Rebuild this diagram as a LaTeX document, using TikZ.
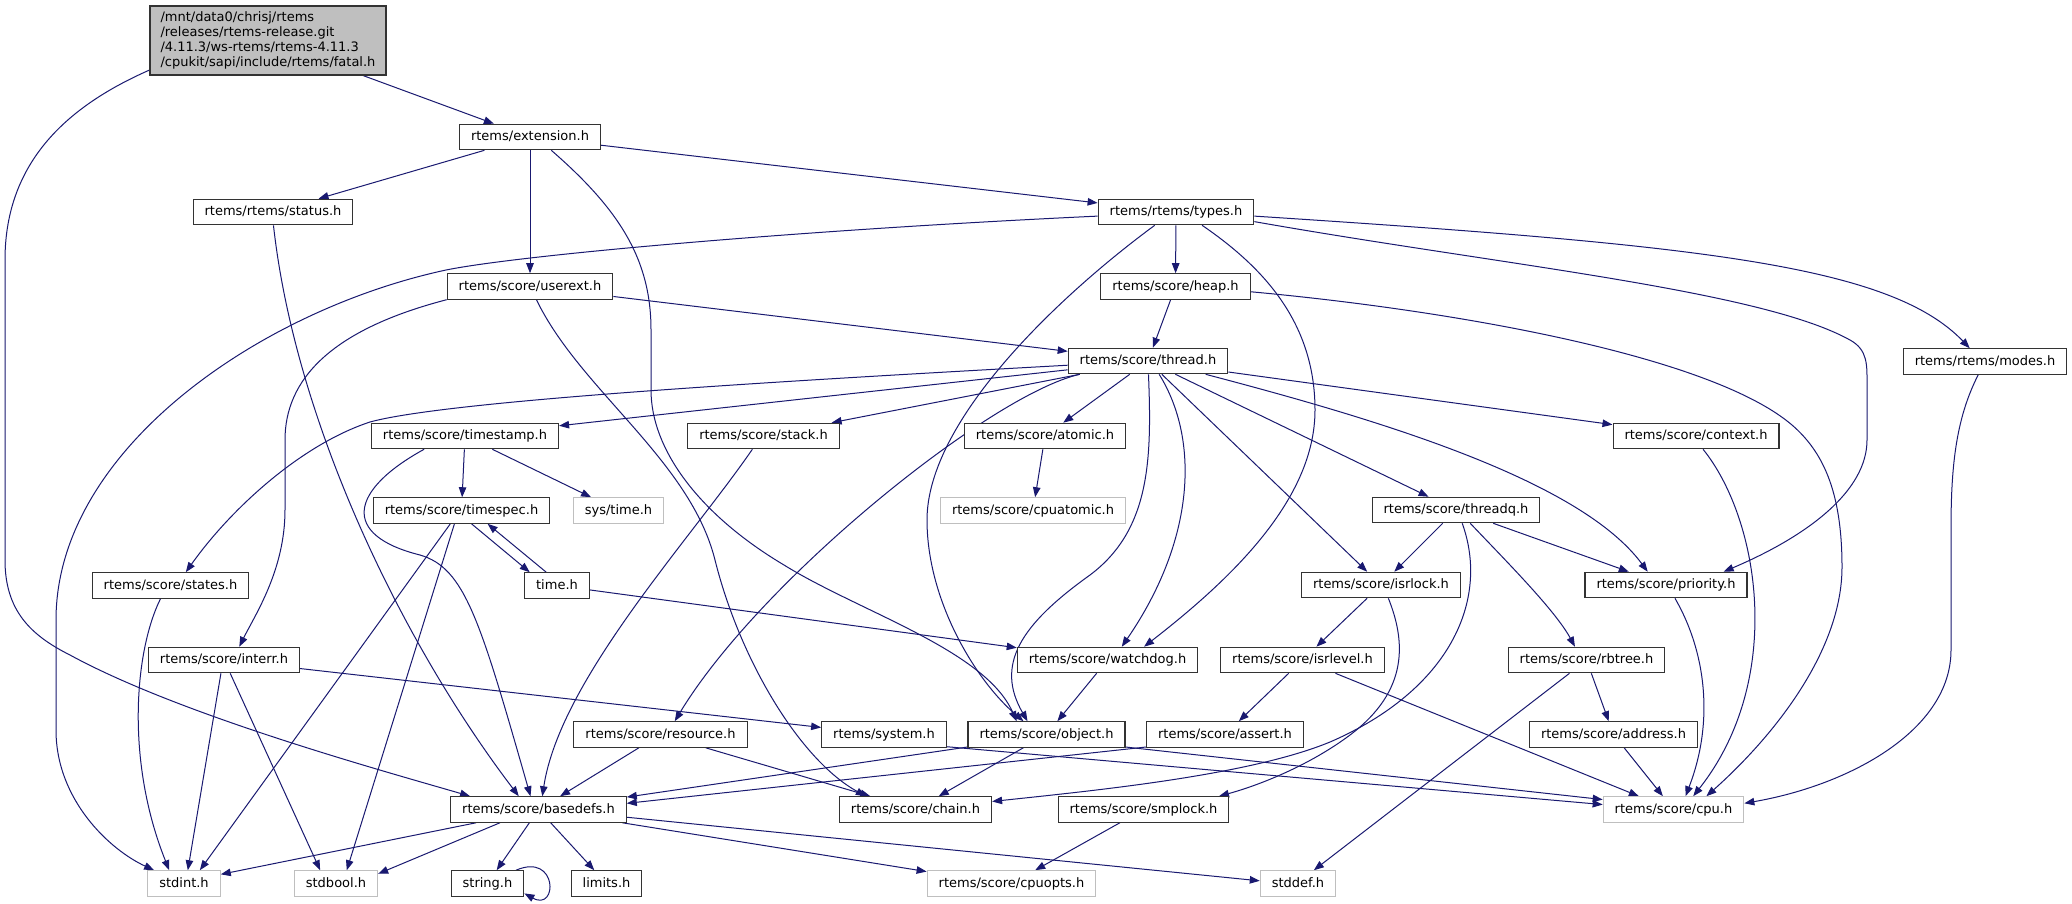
\documentclass[tikz,border=0pt]{standalone}
\usepackage{fontspec}
\setmainfont{DejaVu Sans}
\usetikzlibrary{arrows.meta}
\definecolor{edgeblue}{HTML}{191970}
\definecolor{nodegray}{HTML}{BFBFBF}
\definecolor{frame}{HTML}{333333}
\pgfdeclarelayer{bg}
\pgfdeclarelayer{edges}
\pgfsetlayers{bg,edges,main}
\begin{document}
\begin{tikzpicture}[x=1pt,y=-1pt,
  every node/.style={font=\fontsize{13}{15}\selectfont},
  box/.style={draw=frame, line width=1.1pt, rectangle, fill=white, inner xsep=11.5pt, inner ysep=0pt,
              minimum height=25.5pt, text height=10pt, text depth=3pt},
  ext/.style={box, draw=nodegray},
  e/.style={draw=edgeblue, line width=1pt, -{Triangle[length=10pt,width=7.5pt]}}]
\useasboundingbox (0,0) rectangle (2072,903);
\begin{pgfonlayer}{bg}
\fill[white] (0,0) rectangle (2072,903);
\end{pgfonlayer}

% ---------------- nodes ----------------
\node[box, fill=nodegray, text width=215pt, align=left, inner xsep=10.5pt, minimum height=69pt,
      text height=, text depth=] (fatal) at (268,40.5)
  {/mnt/data0/chrisj/rtems\\/releases/rtems-release.git\\/4.11.3/ws-rtems/rtems-4.11.3\\/cpukit/sapi/include/rtems/fatal.h};
\node[box] (extension) at (530,137) {rtems/extension.h};
\node[box] (status) at (273,212) {rtems/rtems/status.h};
\node[box] (userext) at (530,286.5) {rtems/score/userext.h};
\node[box] (types) at (1176,212) {rtems/rtems/types.h};
\node[box] (heap) at (1175.5,286.5) {rtems/score/heap.h};
\node[box] (thread) at (1148,361) {rtems/score/thread.h};
\node[box] (modes) at (1985,361.5) {rtems/rtems/modes.h};
\node[box] (context) at (1696,436) {rtems/score/context.h};
\node[box] (threadq) at (1456,510) {rtems/score/threadq.h};
\node[box] (timestamp) at (465,436) {rtems/score/timestamp.h};
\node[box] (timespec) at (461.5,510.5) {rtems/score/timespec.h};
\node[ext] (systime) at (618.5,510.5) {sys/time.h};
\node[box] (states) at (170.5,585.5) {rtems/score/states.h};
\node[box] (timeh) at (557,585.5) {time.h};
\node[box] (interr) at (224,660) {rtems/score/interr.h};
\node[box] (basedefs) at (538.5,809.5) {rtems/score/basedefs.h};
\node[ext] (stdint) at (184,883.5) {stdint.h};
\node[ext] (stdbool) at (336,883.5) {stdbool.h};
\node[box] (stringh) at (487.5,883.5) {string.h};
\node[box] (limits) at (606.5,883.5) {limits.h};
\node[box] (stack) at (763.5,436) {rtems/score/stack.h};
\node[box] (atomic) at (1045,436) {rtems/score/atomic.h};
\node[ext] (cpuatomic) at (1033,510.5) {rtems/score/cpuatomic.h};
\node[box] (watchdog) at (1107.5,660) {rtems/score/watchdog.h};
\node[box] (resource) at (660.5,734.5) {rtems/score/resource.h};
\node[box] (systemh) at (884,734.5) {rtems/system.h};
\node[box] (object) at (1046.5,734.5) {rtems/score/object.h};
\node[box] (assert) at (1225,734.5) {rtems/score/assert.h};
\node[box] (chain) at (915.5,809.5) {rtems/score/chain.h};
\node[box] (smplock) at (1143.5,809.5) {rtems/score/smplock.h};
\node[ext] (cpuopts) at (1011.5,883.5) {rtems/score/cpuopts.h};
\node[box] (isrlock) at (1381,585) {rtems/score/isrlock.h};
\node[box] (priority) at (1666,585) {rtems/score/priority.h};
\node[box] (isrlevel) at (1302.5,660) {rtems/score/isrlevel.h};
\node[box] (rbtree) at (1586.5,660) {rtems/score/rbtree.h};
\node[box] (address) at (1613.5,734.5) {rtems/score/address.h};
\node[ext] (cpu) at (1673.5,809.5) {rtems/score/cpu.h};
\node[ext] (stddef) at (1298,883.5) {stddef.h};

% ---------------- edges ----------------
\begin{pgfonlayer}{edges}
% fatal.h
\draw[e] (fatal) -- (extension);
\draw[e] (fatal.194) .. controls (70,105) and (5,160) .. (5,260) -- (5,560)
   .. controls (5,610) and (30,635) .. (70,655) .. controls (180,715) and (380,770) .. (basedefs.169);
% extension.h
\draw[e] (extension) -- (status);
\draw[e] (extension) -- (userext);
\draw[e] (extension) -- (types);
\draw[e] (extension.328) .. controls (620,210) and (651,260) .. (651,330) -- (651,390)
   .. controls (651,450) and (700,515) .. (784,565) .. controls (860,612) and (985,650) .. (object.156);
% status.h
\draw[e] (status.272) .. controls (295,420) and (400,640) .. (basedefs.146);
% types.h
\draw[e] (types.183) .. controls (800,230) and (520,255) .. (446,270)
   .. controls (260,310) and (56,450) .. (56,620) -- (56,730)
   .. controls (56,800) and (110,850) .. (stdint.156);
\draw[e] (types) -- (heap);
\draw[e] (types.212) .. controls (1060,295) and (927,420) .. (927,520)
   .. controls (927,600) and (975,680) .. (object.150);
\draw[e] (types.333) .. controls (1260,265) and (1315,320) .. (1315,410)
   .. controls (1315,500) and (1230,580) .. (watchdog.20);
\draw[e] (types.353) .. controls (1500,265) and (1760,290) .. (1850,340)
   .. controls (1868,350) and (1867,365) .. (1867,385) -- (1867,440)
   .. controls (1867,490) and (1810,535) .. (priority.13);
\draw[e] (types.357) .. controls (1700,245) and (1890,265) .. (modes.139);
% heap.h
\draw[e] (heap) -- (thread);
\draw[e] (heap.356) .. controls (1450,310) and (1710,355) .. (1792,425)
   .. controls (1822,451) and (1842,490) .. (1842,567)
   .. controls (1842,650) and (1775,735) .. (cpu.22);
% thread.h
\draw[e] (thread.183) .. controls (800,380) and (450,400) .. (370,422)
   .. controls (300,445) and (230,510) .. (states.41);
\draw[e] (thread) -- (timestamp);
\draw[e] (thread) -- (stack);
\draw[e] (thread.191) .. controls (990,395) and (760,580) .. (resource.43);
\draw[e] (thread) -- (atomic);
\draw[e] (thread.272) .. controls (1152,460) and (1150,530) .. (1090,575)
   .. controls (1020,625) and (995,665) .. (object.145);
\draw[e] (thread.310) .. controls (1200,440) and (1195,540) .. (watchdog.43);
\draw[e] (thread) -- (isrlock);
\draw[e] (thread) -- (threadq);
\draw[e] (thread.347) .. controls (1380,420) and (1580,480) .. (priority.144);
\draw[e] (thread) -- (context);
% context.h
\draw[e] (context.298) .. controls (1760,520) and (1785,680) .. (cpu.34);
% userext.h
\draw[e] (userext.189) .. controls (330,330) and (285,380) .. (285,440) -- (285,510)
   .. controls (285,570) and (255,615) .. (interr.41);
\draw[e] (userext) -- (thread);
\draw[e] (userext.296) .. controls (580,390) and (690,460) .. (715,560)
   .. controls (740,660) and (800,760) .. (chain.165);
% timestamp.h
\draw[e] (timestamp) -- (timespec);
\draw[e] (timestamp) -- (systime);
\draw[e] (timestamp.198) .. controls (350,490) and (340,535) .. (420,555)
   .. controls (465,568) and (480,620) .. (basedefs.121);
% timespec.h / time.h
\draw[e] (timespec.307) -- (timeh.154);
\draw[e] (timeh.129) -- (timespec.333);
\draw[e] (timespec.230) -- (stdint.40);
\draw[e] (timespec.242) -- (stdbool.51);
\draw[e] (timeh) -- (watchdog);
% states.h
\draw[e] (states.233) .. controls (135,650) and (125,760) .. (stdint.138);
% interr.h
\draw[e] (interr.257) -- (stdint.74);
\draw[e] (interr.295) -- (stdbool.140);
\draw[e] (interr) -- (systemh);
% basedefs.h
\draw[e] (basedefs.192) -- (stdint.14);
\draw[e] (basedefs.199) -- (stdbool.13);
\draw[e] (basedefs) -- (stringh);
\draw[e] (basedefs) -- (limits);
\draw[e] (basedefs.351.4) -- (cpuopts.172);
\draw[e] (basedefs.355) -- (stddef.176);
\draw[e] (stringh.25) .. controls (558,852) and (558,912) .. (stringh.345);
% stack.h
\draw[e] (stack.230) .. controls (690,540) and (560,680) .. (basedefs.74);
% atomic.h
\draw[e] (atomic) -- (cpuatomic);
% watchdog.h
\draw[e] (watchdog) -- (object);
% resource.h
\draw[e] (resource) -- (basedefs);
\draw[e] (resource) -- (chain);
% system.h
\draw[e] (systemh.349) -- (cpu.176);
% object.h
\draw[e] (object.189) -- (basedefs.8);
\draw[e] (object) -- (chain);
\draw[e] (object.351) -- (cpu.172);
% assert.h
\draw[e] (assert.189) -- (basedefs.4);
% threadq.h
\draw[e] (threadq) -- (isrlock);
\draw[e] (threadq) -- (priority);
\draw[e] (threadq.317) .. controls (1505,560) and (1555,610) .. (rbtree.131);
\draw[e] (threadq.295) .. controls (1490,600) and (1450,690) .. (1330,742)
   .. controls (1250,775) and (1100,790) .. (chain.6);
% isrlock.h
\draw[e] (isrlock) -- (isrlevel);
\draw[e] (isrlock.299) .. controls (1405,640) and (1410,690) .. (1350,735)
   .. controls (1310,765) and (1260,785) .. (smplock.10);
% isrlevel.h
\draw[e] (isrlevel) -- (assert);
\draw[e] (isrlevel.338) -- (cpu.159);
% rbtree.h
\draw[e] (rbtree) -- (address);
\draw[e] (rbtree.218) -- (stddef.40);
% address.h
\draw[e] (address) -- (cpu);
% priority.h
\draw[e] (priority.304) .. controls (1705,650) and (1715,720) .. (cpu.48);
% modes.h
\draw[e] (modes.243) .. controls (1955,420) and (1951,470) .. (1951,530) -- (1951,650)
   .. controls (1951,730) and (1850,785) .. (cpu.5);
% smplock.h
\draw[e] (smplock) -- (cpuopts);
\end{pgfonlayer}
\end{tikzpicture}
\end{document}
